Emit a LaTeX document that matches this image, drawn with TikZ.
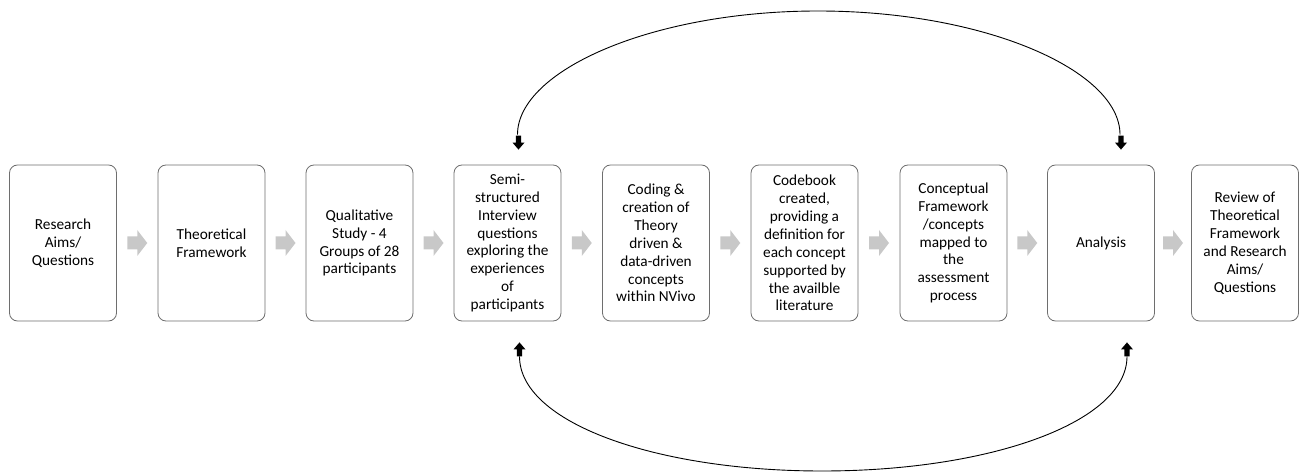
\documentclass[tikz,border=0pt]{standalone}
\usepackage{fontspec}
\setmainfont{Carlito}
\usetikzlibrary{calc}
\definecolor{boxgray}{RGB}{110,110,110}
\definecolor{chev}{RGB}{200,200,200}
\begin{document}
\begin{tikzpicture}[x=1pt,y=-1pt,
  box/.style={draw=boxgray, line width=0.8pt, rounded corners=8pt, fill=white,
    minimum width=107pt, minimum height=156pt, align=center, inner sep=2pt,
    font=\fontsize{15.3}{17.9}\selectfont},
  loopline/.style={draw=black, line width=0.9pt},
  blockdown/.pic={\fill[black] (-2.6,-14) -- (2.6,-14) -- (2.6,-7) -- (6,-7) -- (0,0) -- (-6,-7) -- (-2.6,-7) -- cycle;},
  blockup/.pic={\fill[black] (-2.6,14) -- (2.6,14) -- (2.6,7) -- (6,7) -- (0,0) -- (-6,7) -- (-2.6,7) -- cycle;}
]
\useasboundingbox (0,0) rectangle (1299,473);

\node[box] (b1) at (63,243) {Research\\Aims/\\Questions};
\node[box] (b2) at (211.5,243) {Theoretical\\Framework};
\node[box] (b3) at (359.5,243) {Qualitative\\Study - 4\\Groups of 28\\participants};
\node[box] (b4) at (507.5,243) {Semi-\\structured\\Interview\\questions\\exploring the\\experiences\\of\\participants};
\node[box] (b5) at (656,243) {Coding \&\\creation of\\Theory\\driven \&\\data-driven\\concepts\\within NVivo};
\node[box] (b6) at (804.5,243) {Codebook\\created,\\providing a\\definition for\\each concept\\supported by\\the availble\\literature};
\node[box] (b7) at (953.5,243) {Conceptual\\Framework\\/concepts\\mapped to\\the\\assessment\\process};
\node[box] (b8) at (1101,243) {Analysis};
\node[box] (b9) at (1245,243) {Review of\\Theoretical\\Framework\\and Research\\Aims/\\Questions};

% grey chevron arrows between boxes
\foreach \a/\b in {b1/b2,b2/b3,b3/b4,b4/b5,b5/b6,b6/b7,b7/b8,b8/b9}{
  \fill[chev] ($(\a.east)!0.5!(\b.west)$) ++(-10,-6.5) -- ++(10,0) -- ++(0,-6.5)
    -- ++(10,13) -- ++(-10,13) -- ++(0,-6.5) -- ++(-10,0) -- cycle;
}

% top feedback loop
\coordinate (t4) at ($(b4.north)+(11,-15)$);
\coordinate (t8) at ($(b8.north)+(20,-15)$);
\coordinate (apex) at (818,11);
\draw[loopline] ($(t4)+(-1,-15)$) .. controls ($(t4)+(-1,-79)$) and (652,11) .. (apex)
  .. controls (985,11) and ($(t8)+(-1,-79)$) .. ($(t8)+(-1,-15)$);
\pic at (t4) {blockdown};
\pic at (t8) {blockdown};

% bottom feedback loop
\coordinate (u4) at ($(b4.south)+(12,21)$);
\coordinate (u8) at ($(b8.south)+(26,21)$);
\coordinate (bot) at (822,471);
\draw[loopline] ($(u4)+(0,14)$) .. controls ($(u4)+(0,80)$) and (655,471) .. (bot)
  .. controls (990,471) and ($(u8)+(0,80)$) .. ($(u8)+(0,14)$);
\pic at (u4) {blockup};
\pic at (u8) {blockup};
\end{tikzpicture}
\end{document}
